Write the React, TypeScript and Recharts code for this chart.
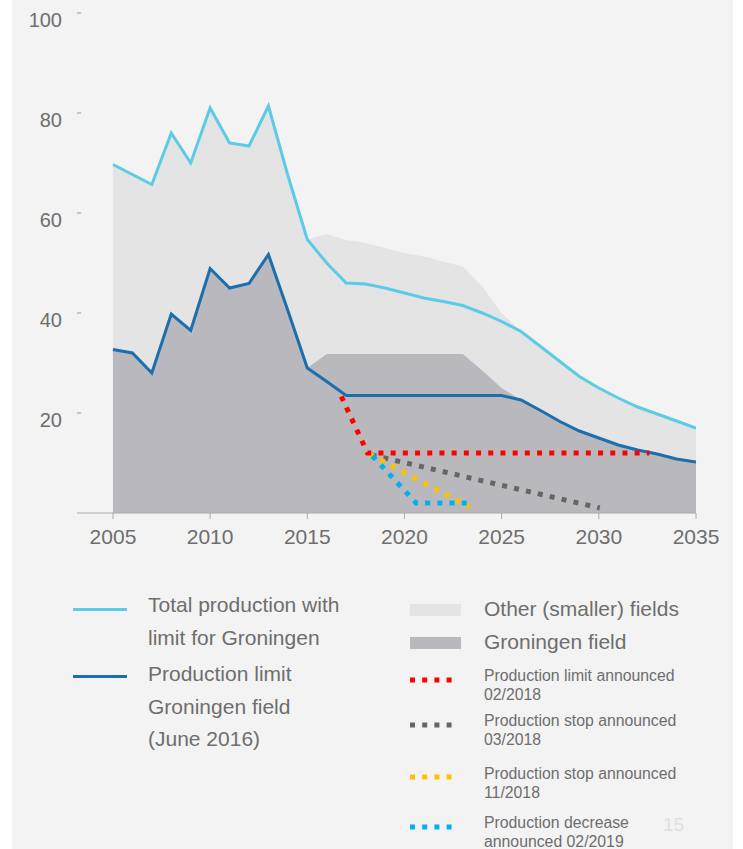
import React from 'react';
import { ComposedChart, Area, Line, XAxis, YAxis } from 'recharts';

const years = [
  2005, 2006, 2007, 2008, 2009, 2010, 2011, 2012, 2013, 2014, 2015, 2016, 2017, 2018, 2019, 2020,
  2021, 2022, 2023, 2024, 2025, 2026, 2027, 2028, 2029, 2030, 2031, 2032, 2033, 2034, 2035,
];

// Total production with limit for Groningen
const totalProduction = [
  69.7, 67.7, 65.7, 76, 70, 81, 74, 73.4, 81.4, 67.5, 54.7, 50, 46, 45.8, 45, 44,
  43, 42.3, 41.5, 40, 38.3, 36.3, 33.3, 30.3, 27.3, 25, 23, 21.2, 19.8, 18.4, 17,
];

// Production limit Groningen field (June 2016)
const productionLimit = [
  32.7, 32, 28, 39.8, 36.5, 48.9, 45, 45.9, 51.7, 40.5, 29, 26.3, 23.5, 23.5, 23.5, 23.5,
  23.5, 23.5, 23.5, 23.5, 23.5, 22.6, 20.5, 18.3, 16.4, 15, 13.6, 12.6, 11.8, 10.8, 10.2,
];

// top of the light grey area (other, smaller fields)
const otherFields = [
  69.7, 67.7, 65.7, 76, 70, 81, 74, 73.4, 81.4, 67.5, 54.7, 55.8, 54.6, 54, 53, 52,
  51.3, 50.3, 49.3, 45.3, 40, 36.3, 33.3, 30.3, 27.3, 25, 23, 21.2, 19.8, 18.4, 17,
];

// top of the dark grey area (Groningen field)
const groningenField = [
  32.7, 32, 28, 39.8, 36.5, 48.9, 45, 45.9, 51.7, 40.5, 29, 31.8, 31.8, 31.8, 31.8, 31.8,
  31.8, 31.8, 31.8, 28.5, 25, 22.6, 20.5, 18.3, 16.4, 15, 13.6, 12.6, 11.8, 10.8, 10.2,
];

const limitFeb2018 = [
  { year: 2016.75, value: 23.3 },
  { year: 2018.1, value: 12 },
  { year: 2032.6, value: 12 },
];
const stopMar2018 = [
  { year: 2018.3, value: 11.6 },
  { year: 2030.05, value: 1 },
];
const stopNov2018 = [
  { year: 2018.2, value: 11.8 },
  { year: 2023.35, value: 1.2 },
];
const decreaseFeb2019 = [
  { year: 2018.35, value: 11.4 },
  { year: 2020.6, value: 2 },
  { year: 2023.3, value: 2 },
];

const xTicks = [2005, 2010, 2015, 2020, 2025, 2030, 2035];
const yTicks = [20, 40, 60, 80, 100];

const data = years.map((year, i) => ({
  year,
  total: totalProduction[i],
  limit: productionLimit[i],
  other: otherFields[i],
  groningen: groningenField[i],
}));

const LIGHT_BLUE = '#5ccbe6';
const DARK_BLUE = '#1b6fae';
const LIGHT_GREY = '#e4e4e5';
const DARK_GREY = '#b9b8bc';
const TEXT = '#6e6e6e';
const FONT = '"Liberation Sans", Arial, sans-serif';

const YTick = (props: any) => {
  const { x, y, payload } = props;
  return (
    <g>
      <text x={x - 15} y={y + 7} textAnchor="end" dominantBaseline="central" fill={TEXT} fontSize={20} fontFamily={FONT}>
        {payload.value}
      </text>
      <line x1={x} x2={x + 4} y1={y} y2={y} stroke="#999" strokeWidth={1} />
    </g>
  );
};

const DOT = { strokeWidth: 5, strokeDasharray: '5 7.2' };

const legendBig: React.CSSProperties = { fontSize: 21, color: TEXT, lineHeight: '32.5px', whiteSpace: 'nowrap' };
const legendSmall: React.CSSProperties = { fontSize: 15.8, color: TEXT, lineHeight: '19px', whiteSpace: 'nowrap' };

const DottedSample = ({ color, top }: { color: string; top: number }) => (
  <svg style={{ position: 'absolute', left: 410, top: top - 4 }} width={44} height={8}>
    <line x1={0} x2={44} y1={4} y2={4} stroke={color} strokeWidth={5} strokeDasharray="5 7.2" />
  </svg>
);

const App = () => {
  return (
    <div style={{ position: 'absolute', left: 0, top: 0, width: 743, height: 849, background: '#fff', fontFamily: FONT }}>
      <div style={{ position: 'absolute', left: 12, top: 0, width: 721, height: 849, background: '#f3f3f3' }} />
      <div style={{ position: 'absolute', left: 0, top: 0 }}>
        <ComposedChart width={743} height={560} data={data} margin={{ top: 13, right: 47, left: 0, bottom: 0 }}>
          <XAxis
            dataKey="year"
            type="number"
            domain={[2003.15, 2035]}
            allowDataOverflow
            ticks={xTicks}
            stroke="#aaa"
            tickSize={6}
            tick={{ fill: TEXT, fontSize: 21, fontFamily: FONT }}
            tickMargin={10}
            height={47}
          />
          <YAxis
            type="number"
            domain={[0, 100]}
            ticks={yTicks}
            width={77}
            axisLine={false}
            tickLine={false}
            tickSize={0}
            tickMargin={0}
            tick={<YTick />}
          />
          <Area dataKey="other" type="linear" stroke="none" fill={LIGHT_GREY} fillOpacity={1} isAnimationActive={false} />
          <Area dataKey="groningen" type="linear" stroke="none" fill={DARK_GREY} fillOpacity={1} isAnimationActive={false} />
          <Line dataKey="total" type="linear" stroke={LIGHT_BLUE} strokeWidth={3} dot={false} isAnimationActive={false} />
          <Line dataKey="limit" type="linear" stroke={DARK_BLUE} strokeWidth={3} dot={false} isAnimationActive={false} />
          <Line data={stopMar2018} dataKey="value" stroke="#666666" {...DOT} dot={false} isAnimationActive={false} />
          <Line data={stopNov2018} dataKey="value" stroke="#ffc000" {...DOT} dot={false} isAnimationActive={false} />
          <Line data={decreaseFeb2019} dataKey="value" stroke="#00b0f0" {...DOT} dot={false} isAnimationActive={false} />
          <Line data={limitFeb2018} dataKey="value" stroke="#ff0000" {...DOT} dot={false} isAnimationActive={false} />
        </ComposedChart>
      </div>

      {/* legend */}
      <div style={{ position: 'absolute', left: 73, top: 608, width: 54, height: 3, background: LIGHT_BLUE }} />
      <div style={{ position: 'absolute', left: 148, top: 589, ...legendBig }}>
        Total production with<br />limit for Groningen
      </div>
      <div style={{ position: 'absolute', left: 73, top: 675, width: 54, height: 3, background: DARK_BLUE }} />
      <div style={{ position: 'absolute', left: 148, top: 658, ...legendBig }}>
        Production limit<br />Groningen field<br />(June 2016)
      </div>

      <div style={{ position: 'absolute', left: 410, top: 604, width: 51, height: 12, background: LIGHT_GREY }} />
      <div style={{ position: 'absolute', left: 484, top: 593, ...legendBig }}>Other (smaller) fields</div>
      <div style={{ position: 'absolute', left: 410, top: 637, width: 51, height: 12, background: DARK_GREY }} />
      <div style={{ position: 'absolute', left: 484, top: 626, ...legendBig }}>Groningen field</div>

      <DottedSample color="#ff0000" top={680} />
      <div style={{ position: 'absolute', left: 484, top: 666, ...legendSmall }}>
        Production limit announced<br />02/2018
      </div>
      <DottedSample color="#666666" top={725} />
      <div style={{ position: 'absolute', left: 484, top: 711, ...legendSmall }}>
        Production stop announced<br />03/2018
      </div>
      <DottedSample color="#ffc000" top={777} />
      <div style={{ position: 'absolute', left: 484, top: 764, ...legendSmall }}>
        Production stop announced<br />11/2018
      </div>
      <DottedSample color="#00b0f0" top={827} />
      <div style={{ position: 'absolute', left: 484, top: 813, ...legendSmall }}>
        Production decrease<br />announced 02/2019
      </div>
      <div style={{ position: 'absolute', left: 663, top: 814, fontSize: 19, color: '#e0e0e0' }}>15</div>
    </div>
  );
};

export default App;
